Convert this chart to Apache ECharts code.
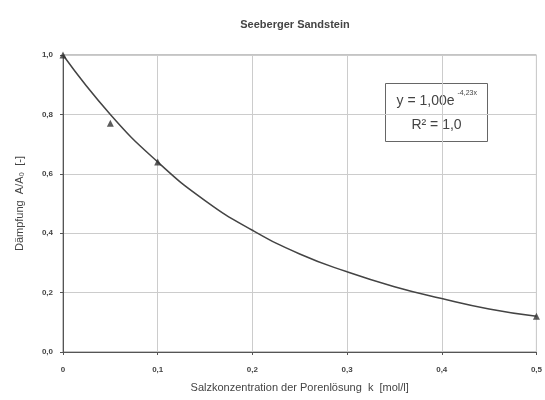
<!DOCTYPE html>
<html><head><meta charset="utf-8">
<script src="https://cdn.jsdelivr.net/npm/echarts@6/dist/echarts.min.js"></script>
<style>html,body{margin:0;padding:0;background:#fff}#c{width:545px;height:400px}</style>
</head><body><div id="c"></div>
<script>
// Measured points
const measX = [0, 0.05, 0.1, 0.5];
const measY = [1.0, 0.77, 0.64, 0.12];
// Trend curve
const curveX = [0, 0.05, 0.1, 0.15, 0.2, 0.25, 0.3, 0.35, 0.4, 0.45, 0.5];
const curveY = [1.0, 0.80, 0.64, 0.51, 0.41, 0.33, 0.27, 0.22, 0.18, 0.145, 0.12];
const xTicks = ['0', '0,1', '0,2', '0,3', '0,4', '0,5'];
const yTicks = ['0,0', '0,2', '0,4', '0,6', '0,8', '1,0'];

const txt = '#444';
const chart = echarts.init(document.getElementById('c'));
chart.setOption({
  animation: false,
  title: {
    text: 'Seeberger Sandstein', left: 290, top: 14, textAlign: 'center',
    textStyle: {fontFamily: 'Liberation Sans', fontSize: 11, fontWeight: 'bold', color: txt}
  },
  grid: {left: 63, right: 8, top: 55, bottom: 48, show: true, borderColor: '#888', borderWidth: 1},
  xAxis: {
    type: 'value', min: 0, max: 0.5, interval: 0.1,
    name: 'Salzkonzentration der Porenlösung  k  [mol/l]',
    nameLocation: 'middle', nameGap: 30,
    nameTextStyle: {fontFamily: 'Liberation Sans', fontSize: 11, color: txt},
    axisLine: {lineStyle: {color: '#555'}},
    axisTick: {show: true, length: 3, lineStyle: {color: '#555'}},
    axisLabel: {fontFamily: 'Liberation Sans', fontSize: 8, fontWeight: 'bold', color: txt, margin: 14,
      formatter: v => xTicks[Math.round(v * 10)]},
    splitLine: {lineStyle: {color: '#ccc'}}
  },
  yAxis: {
    type: 'value', min: 0, max: 1, interval: 0.2,
    name: 'Dämpfung  A/A₀  [-]',
    nameLocation: 'middle', nameGap: 38,
    nameTextStyle: {fontFamily: 'Liberation Sans', fontSize: 11, color: txt},
    axisLine: {show: true, lineStyle: {color: '#555'}},
    axisTick: {show: true, length: 3, lineStyle: {color: '#555'}},
    axisLabel: {fontFamily: 'Liberation Sans', fontSize: 8, fontWeight: 'bold', color: txt, margin: 10,
      formatter: v => yTicks[Math.round(v * 5)]},
    splitLine: {lineStyle: {color: '#ccc'}}
  },
  series: [
    {
      type: 'line', data: curveX.map((x, i) => [x, curveY[i]]), smooth: true, showSymbol: false,
      lineStyle: {color: '#444', width: 1.5}, z: 2
    },
    {
      type: 'scatter', data: measX.map((x, i) => [x, measY[i]]), symbol: 'triangle', symbolSize: 7,
      itemStyle: {color: '#333'}, z: 3
    }
  ],
  graphic: [{
    type: 'group', left: 385, top: 83,
    children: [
      {type: 'rect', shape: {x: 0, y: 0, width: 102, height: 58},
       style: {fill: '#fff', stroke: '#666', lineWidth: 1}},
      {type: 'text', x: 69, y: 18, style: {text: 'y = 1,00e', fill: txt, fontFamily: 'Liberation Sans', fontSize: 14,
        textAlign: 'right', textVerticalAlign: 'middle'}},
      {type: 'text', x: 72, y: 10, style: {text: '-4,23x', fill: txt, fontFamily: 'Liberation Sans', fontSize: 7,
        textAlign: 'left', textVerticalAlign: 'middle'}},
      {type: 'text', x: 51, y: 42, style: {text: 'R² = 1,0', fill: txt, fontFamily: 'Liberation Sans', fontSize: 14,
        textAlign: 'center', textVerticalAlign: 'middle'}}
    ]
  }]
});
</script></body></html>
